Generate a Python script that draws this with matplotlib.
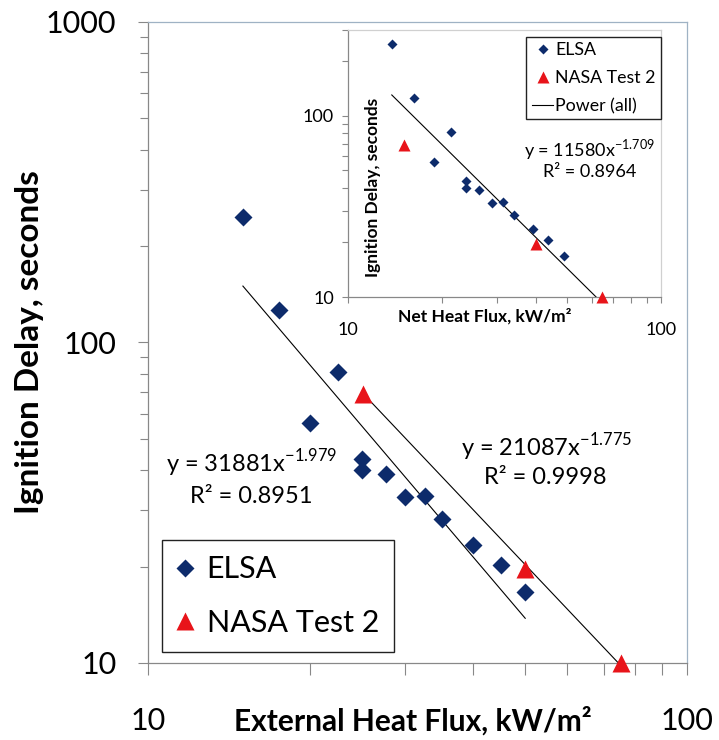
import matplotlib.pyplot as plt
import numpy as np
from matplotlib.ticker import NullFormatter, FixedLocator

plt.rcParams['font.family'] = ['Lato', 'DejaVu Sans']
plt.rcParams['mathtext.fontset'] = 'custom'
plt.rcParams['mathtext.rm'] = 'Lato'

# main chart: delay vs external heat flux
elsa_ext_flux = [15.0, 17.5, 22.5, 20.0, 25.0, 25.0, 27.6, 30.0, 32.7, 35.1, 40.1, 45.2, 50.1]
elsa_delay = [247, 126, 81, 56, 43.3, 40.0, 38.8, 33.0, 33.3, 28.1, 23.3, 20.2, 16.6]
nasa_ext_flux = [25.1, 50.1, 75.4]
nasa_delay = [68.9, 19.6, 10.0]

# inset: delay vs net heat flux
elsa_net_flux = [13.8, 16.3, 21.4, 18.8, 23.9, 23.9, 26.3, 28.8, 31.3, 34.0, 38.9, 43.7, 48.9]
elsa_net_delay = [248, 126, 82, 56, 43.6, 40.0, 38.9, 33.2, 33.5, 28.3, 23.6, 20.6, 16.8]
nasa_net_flux = [15.1, 39.9, 64.6]
nasa_net_delay = [69.5, 19.7, 10.0]

# power-law trendlines (coefficient, exponent) as printed on the chart
elsa_fit = (31881, -1.979)
nasa_fit = (21087, -1.775)
all_net_fit = (11580, -1.709)

navy = '#0d2b6b'
red = '#e8141a'
axis_gray = '#888888'


def power_line(ax, xs, fit, **kw):
    x = np.array([min(xs), max(xs)])
    ax.plot(x, fit[0] * x ** fit[1], **kw)


fig = plt.figure(figsize=(7.19, 7.40), dpi=100)

# ---------------- main chart ----------------
ax = fig.add_axes([148 / 719, 77 / 740, 539 / 719, 641 / 740])
ax.set_xscale('log')
ax.set_yscale('log')
ax.set_xlim(10, 100)
ax.set_ylim(10, 1000)

power_line(ax, elsa_ext_flux, elsa_fit, color='black', lw=0.8, zorder=2)
power_line(ax, nasa_ext_flux, nasa_fit, color='black', lw=0.8, zorder=2)
ax.plot(elsa_ext_flux, elsa_delay, 'D', color=navy, ms=9.2, mec='none',
        label='ELSA', zorder=3)
ax.plot(nasa_ext_flux, nasa_delay, '^', color=red, ms=13, mec='none',
        label='NASA Test 2', zorder=4, clip_on=False)

ax.set_xticks([10, 100], ['10', '100'])
ax.xaxis.set_minor_locator(FixedLocator([20, 30, 40, 50, 60, 70, 80, 90]))
ax.xaxis.set_minor_formatter(NullFormatter())
ax.set_yticks([10, 100, 1000], ['10', '100', '1000'])
ax.yaxis.set_minor_formatter(NullFormatter())

ax.tick_params(axis='x', which='both', direction='out', length=8.5, width=0.8,
               color=axis_gray, labelsize=22, pad=23)
ax.tick_params(axis='y', which='major', direction='out', length=7.2, width=0.8,
               color=axis_gray, labelsize=22, pad=15.5)
ax.tick_params(axis='y', which='minor', direction='out', length=5.8, width=0.8,
               color=axis_gray)

for side in ['left', 'bottom']:
    ax.spines[side].set_color(axis_gray)
    ax.spines[side].set_linewidth(0.9)
for side in ['top', 'right']:
    ax.spines[side].set_color('#9fb2c4')
    ax.spines[side].set_linewidth(0.9)

ax.set_xlabel('External Heat Flux, kW/m²', fontsize=21.5, fontweight='bold', va='center')
ax.xaxis.set_label_coords(0.492, -0.0905)
ax.set_ylabel('Ignition Delay, seconds', fontsize=24, fontweight='bold', va='center')
ax.yaxis.set_label_coords(-0.219, 0.5)

ax.text(0.192, 0.312, 'y = 31881x$^{\\mathregular{-1.979}}$', transform=ax.transAxes,
        fontsize=17, ha='center', va='center')
ax.text(0.192, 0.259, 'R² = 0.8951', transform=ax.transAxes,
        fontsize=17, ha='center', va='center')
ax.text(0.739, 0.337, 'y = 21087x$^{\\mathregular{-1.775}}$', transform=ax.transAxes,
        fontsize=17, ha='center', va='center')
ax.text(0.737, 0.289, 'R² = 0.9998', transform=ax.transAxes,
        fontsize=17, ha='center', va='center')

leg = ax.legend(loc='upper left', bbox_to_anchor=(0.0254, 0.1919), borderaxespad=0,
                fontsize=22, frameon=True, fancybox=False, framealpha=1,
                edgecolor='#222222', labelspacing=0.84, borderpad=0.5,
                handlelength=0.52, handletextpad=0.45, numpoints=1)
leg.get_frame().set_linewidth(1.0)

# ---------------- inset chart ----------------
ins = fig.add_axes([348 / 719, 443 / 740, 313 / 719, 267.5 / 740])
ins.set_xscale('log')
ins.set_yscale('log')
ins.set_xlim(10, 100)
ins.set_ylim(10, 300)

power_line(ins, elsa_net_flux + nasa_net_flux, all_net_fit, color='black', lw=0.8,
           label='Power (all)', zorder=2)
ins.plot(elsa_net_flux, elsa_net_delay, 'D', color=navy, ms=5.5, mec='none',
         label='ELSA', zorder=3)
ins.plot(nasa_net_flux, nasa_net_delay, '^', color=red, ms=9, mec='none',
         label='NASA Test 2', zorder=4, clip_on=False)

ins.set_xticks([10, 100], ['10', '100'])
ins.xaxis.set_minor_locator(FixedLocator([20, 30, 40, 50, 60, 70, 80, 90]))
ins.xaxis.set_minor_formatter(NullFormatter())
ins.set_yticks([10, 100], ['10', '100'])
ins.yaxis.set_minor_formatter(NullFormatter())
ins.tick_params(axis='x', which='both', direction='out', length=4, width=0.8,
                color=axis_gray, labelsize=13, pad=14)
ins.tick_params(axis='y', which='both', direction='out', length=4, width=0.8,
                color=axis_gray, labelsize=13, pad=6)
for side in ['left', 'bottom']:
    ins.spines[side].set_color(axis_gray)
    ins.spines[side].set_linewidth(0.9)
for side in ['top', 'right']:
    ins.spines[side].set_color('#d0d0d0')
    ins.spines[side].set_linewidth(0.9)

ins.set_xlabel('Net Heat Flux, kW/m²', fontsize=12.5, fontweight='bold', va='center')
ins.xaxis.set_label_coords(0.438, -0.071)
ins.set_ylabel('Ignition Delay, seconds', fontsize=12.5, fontweight='bold', va='center')
ins.yaxis.set_label_coords(0.08, 0.411)

ins.text(0.773, 0.5495, 'y = 11580x$^{\\mathregular{-1.709}}$', transform=ins.transAxes,
         fontsize=13, ha='center', va='center')
ins.text(0.773, 0.468, 'R² = 0.8964', transform=ins.transAxes,
         fontsize=13, ha='center', va='center')

handles, labels = ins.get_legend_handles_labels()
order = [1, 2, 0]
ileg = ins.legend([handles[i] for i in order], [labels[i] for i in order],
                  loc='upper right', bbox_to_anchor=(1.0, 0.973), borderaxespad=0,
                  fontsize=12.8, frameon=True, fancybox=False, framealpha=1,
                  edgecolor='#222222', labelspacing=0.67, borderpad=0.3,
                  handlelength=1.22, handletextpad=0.1, numpoints=1)
ileg.get_frame().set_linewidth(1.0)

fig.savefig('out.png', dpi=100, facecolor='white')
